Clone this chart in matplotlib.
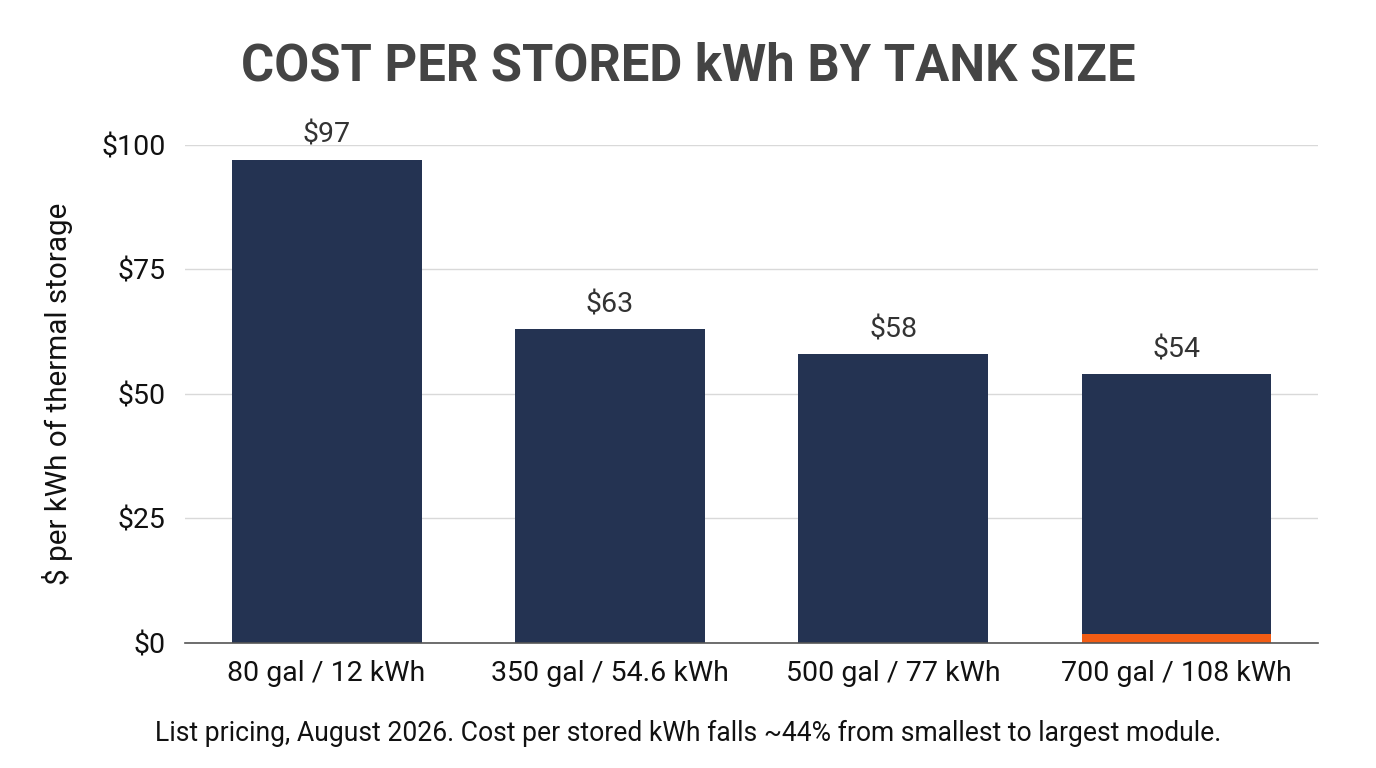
import matplotlib.pyplot as plt

plt.rcParams['font.family'] = ['Roboto', 'DejaVu Sans']

categories = ["80 gal / 12 kWh", "350 gal / 54.6 kWh", "500 gal / 77 kWh", "700 gal / 108 kWh"]
cost_per_kwh = [97, 63, 58, 54]
value_labels = ["$97", "$63", "$58", "$54"]
y_ticks = [0, 25, 50, 75, 100]
y_tick_labels = ["$0", "$25", "$50", "$75", "$100"]
highlight_index = 3

fig = plt.figure(figsize=(13.76, 7.68), dpi=100)
ax = fig.add_axes([0.1344, 0.1628, 0.8236, 0.6484])

x = range(len(categories))
ax.bar(x, cost_per_kwh, width=0.67, color="#243352", zorder=3)
# thin orange accent on the largest module
ax.bar([highlight_index], [1.8], width=0.67, color="#F25C14", zorder=4)

for i, v in enumerate(cost_per_kwh):
    ax.text(i, v + 2.2, value_labels[i], ha="center", va="bottom",
            fontsize=20.5, color="#333333", clip_on=False)

ax.set_xlim(-0.5, len(categories) - 0.5)
ax.set_ylim(0, 100)
ax.set_yticks(y_ticks)
ax.set_yticklabels(y_tick_labels)
ax.set_xticks(list(x))
ax.set_xticklabels(categories)
ax.tick_params(axis="both", length=0, labelsize=20.5, colors="#111111")
ax.tick_params(axis="x", pad=12)
ax.tick_params(axis="y", pad=14)

ax.grid(axis="y", color="#d9d9d9", linewidth=1, zorder=0)
for s in ["top", "right", "left"]:
    ax.spines[s].set_visible(False)
ax.spines["bottom"].set_color("#555555")
ax.spines["bottom"].set_linewidth(1.2)
ax.spines["bottom"].set_zorder(5)

ax.set_ylabel("$ per kWh of thermal storage", fontsize=21.3, color="#111111", labelpad=20)

fig.text(0.5, 0.913, "COST PER STORED kWh BY TANK SIZE", ha="center", va="center",
         fontsize=36.5, fontweight="bold", color="#444444")
fig.text(0.5, 0.045, "List pricing, August 2026. Cost per stored kWh falls ~44% from smallest to largest module.",
         ha="center", va="center", fontsize=19.1, color="#111111")

fig.savefig("out.png", dpi=100)
plt.close(fig)
